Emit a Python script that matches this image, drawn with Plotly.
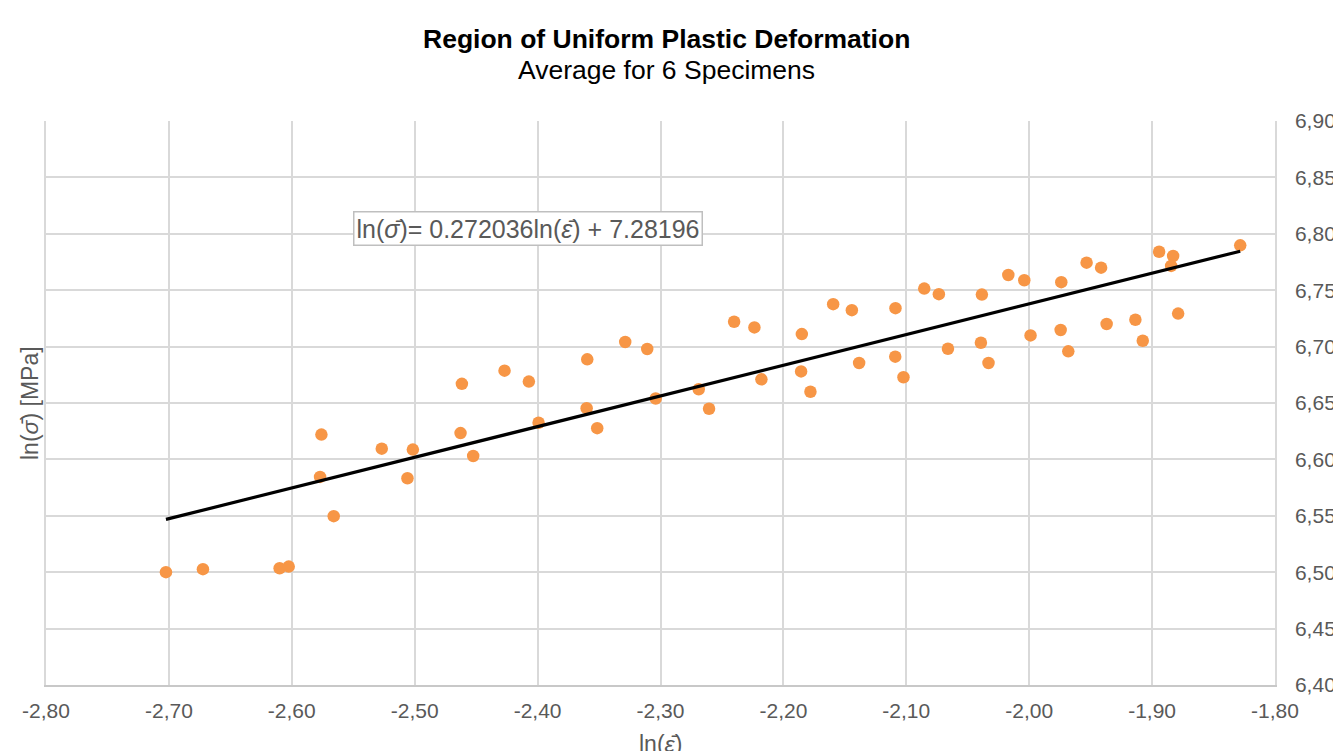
import plotly.graph_objects as go

# Data
ln_strain = [
    -2.7024, -2.6723, -2.6099, -2.6025, -2.5759, -2.5770, -2.5659, -2.5268, -2.5015, -2.5059,
    -2.4616, -2.4627, -2.4524, -2.4269, -2.4071, -2.3992, -2.3596, -2.3601, -2.3515, -2.3287,
    -2.3108, -2.3039, -2.2689, -2.2605, -2.2401, -2.2236, -2.2179, -2.1850, -2.1856, -2.1780,
    -2.1595, -2.1443, -2.1384, -2.1088, -2.1090, -2.1023, -2.0854, -2.0735, -2.0661, -2.0385,
    -2.0393, -2.0331, -2.0170, -2.0040, -1.9989, -1.9739, -1.9744, -1.9682, -1.9533, -1.9415,
    -1.9370, -1.9136, -1.9076, -1.8943, -1.8829, -1.8845, -1.8788, -1.8283,
]
ln_stress = [
    6.5000, 6.5027, 6.5035, 6.5050, 6.6220, 6.5845, 6.5497, 6.6095, 6.6087, 6.5833,
    6.6670, 6.6233, 6.6030, 6.6787, 6.6690, 6.6325, 6.6887, 6.6454, 6.6277, 6.7041,
    6.6979, 6.6540, 6.6622, 6.6449, 6.7220, 6.7170, 6.6710, 6.7111, 6.6780, 6.6600,
    6.7376, 6.7323, 6.6855, 6.7341, 6.6911, 6.6728, 6.7514, 6.7465, 6.6981, 6.7461,
    6.7034, 6.6855, 6.7635, 6.7588, 6.7099, 6.7571, 6.7147, 6.6958, 6.7744, 6.7700,
    6.7200, 6.7238, 6.7052, 6.7841, 6.7803, 6.7715, 6.7293, 6.7898,
]
slope = 0.272036
intercept = 7.28196
x_range = [-2.80, -1.80]
y_range = [6.40, 6.90]
x_ticks = [-2.80, -2.70, -2.60, -2.50, -2.40, -2.30, -2.20, -2.10, -2.00, -1.90, -1.80]
x_tick_labels = ["-2,80", "-2,70", "-2,60", "-2,50", "-2,40", "-2,30", "-2,20",
                 "-2,10", "-2,00", "-1,90", "-1,80"]
y_ticks = [6.40, 6.45, 6.50, 6.55, 6.60, 6.65, 6.70, 6.75, 6.80, 6.85, 6.90]
y_tick_labels = ["6,40", "6,45", "6,50", "6,55", "6,60", "6,65", "6,70", "6,75",
                 "6,80", "6,85", "6,90"]

trend_x = [min(ln_strain), max(ln_strain)]
trend_y = [slope * v + intercept for v in trend_x]

FONT = "Liberation Sans, Arial, sans-serif"
GRAY = "#595959"

L, R, T, B = 46, 58, 121, 66
W, H = 1333, 751
PW, PH = W - L - R, H - T - B


def px(x):
    return (x - L) / PW


def py(y):
    return (H - B - y) / PH


fig = go.Figure()
fig.add_trace(go.Scatter(
    x=ln_strain, y=ln_stress, mode="markers",
    marker=dict(color="#F79646", size=12.5, line=dict(width=0)),
    showlegend=False,
))
fig.add_trace(go.Scatter(
    x=trend_x, y=trend_y, mode="lines",
    line=dict(color="black", width=3.2),
    showlegend=False,
))

fig.update_layout(
    width=W, height=H,
    margin=dict(l=L, r=R, t=T, b=B, autoexpand=False),
    paper_bgcolor="white", plot_bgcolor="white",
    font=dict(family=FONT, size=21, color=GRAY),
    xaxis=dict(
        range=x_range, tickvals=x_ticks, ticktext=x_tick_labels, automargin=False,
        showgrid=True, gridcolor="#d9d9d9", gridwidth=1.5,
        showline=True, linecolor="#c8c8c8", linewidth=2,
        zeroline=False, ticks="outside", ticklen=6, tickcolor="rgba(0,0,0,0)",
        tickfont=dict(size=21, color=GRAY, family=FONT),
    ),
    yaxis=dict(
        range=y_range, tickvals=y_ticks, ticktext=y_tick_labels, side="right",
        automargin=False,
        showgrid=True, gridcolor="#d9d9d9", gridwidth=1.5,
        showline=True, linecolor="#d9d9d9", linewidth=1.5, mirror=True,
        zeroline=False, ticks="outside", ticklen=14, tickcolor="rgba(0,0,0,0)",
        tickfont=dict(size=21, color=GRAY, family=FONT),
    ),
)

annotations = [
    dict(text="<b>Region of Uniform Plastic Deformation</b>", xref="paper", yref="paper",
         x=px(666), y=py(39), xanchor="center", yanchor="middle",
         showarrow=False, font=dict(size=26.5, color="black", family=FONT)),
    dict(text="Average for 6 Specimens", xref="paper", yref="paper",
         x=px(666), y=py(70), xanchor="center", yanchor="middle",
         showarrow=False, font=dict(size=26.5, color="black", family=FONT)),
    dict(text="ln(<i>σ̄</i>) [MPa]", xref="paper", yref="paper",
         x=px(30), y=py(403), xanchor="center", yanchor="middle",
         textangle=-90, showarrow=False, font=dict(size=23, color=GRAY, family=FONT)),
    dict(text="ln(<i>ε̄</i>)", xref="paper", yref="paper",
         x=px(660), y=py(744), xanchor="center", yanchor="middle",
         showarrow=False, font=dict(size=23, color=GRAY, family=FONT)),
    dict(text="ln(<i>σ̄</i>)= 0.272036ln(<i>ε̄</i>) + 7.28196", xref="paper", yref="paper",
         x=px(527.5), y=py(228), xanchor="center", yanchor="middle",
         showarrow=False, font=dict(size=25, color=GRAY, family=FONT),
         bgcolor="white", bordercolor="#bfbfbf", borderwidth=1.5, borderpad=2),
]
fig.update_layout(annotations=annotations)

fig.write_html(
    "out.html",
    config={"displayModeBar": False},
    post_script="document.body.style.margin='0';document.body.style.overflow='hidden';",
)
